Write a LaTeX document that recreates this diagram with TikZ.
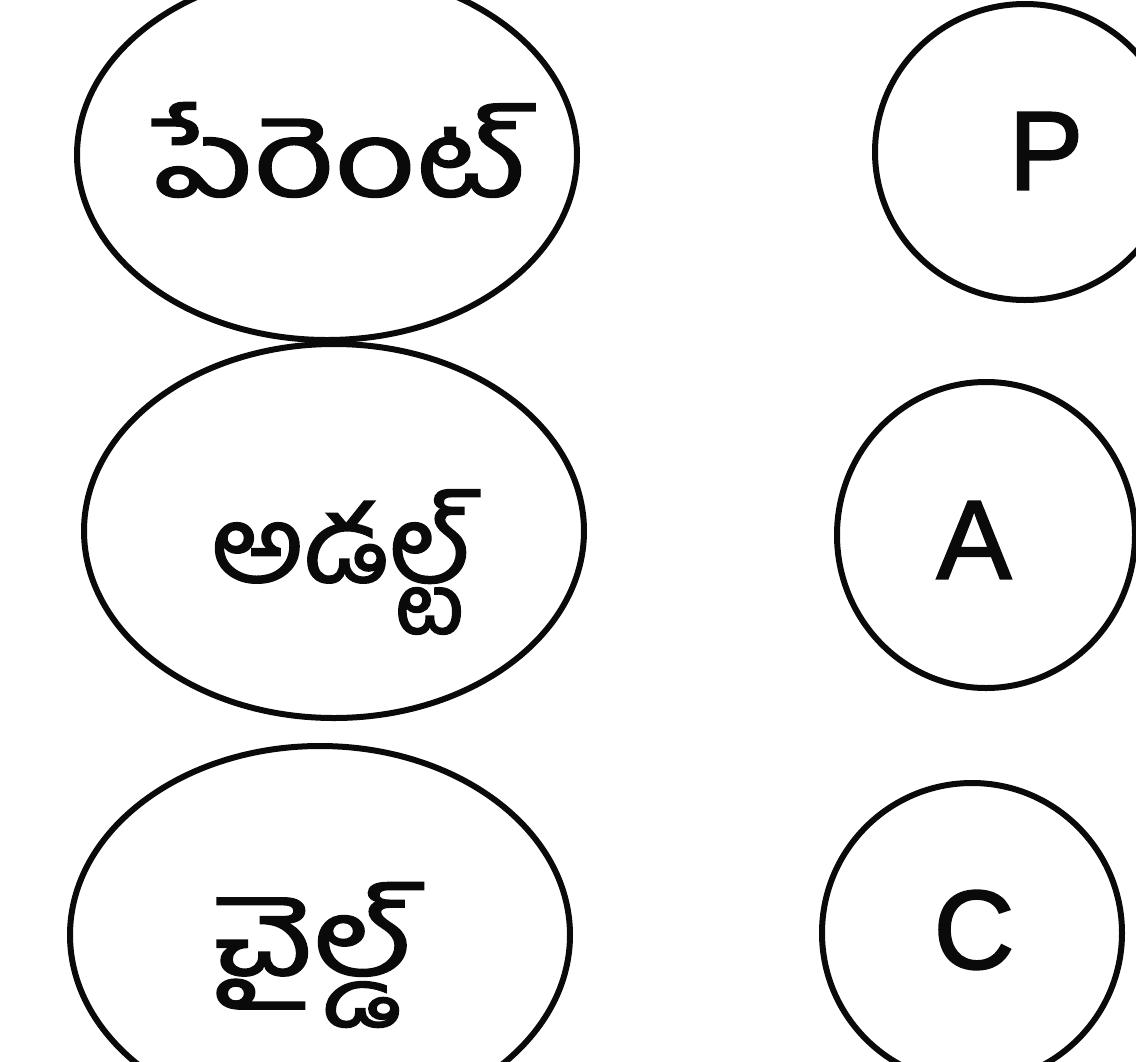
\documentclass[tikz,border=0pt]{standalone}
\usepackage{fontspec}
\setmainfont{Liberation Sans}[FakeBold=1.8]
\newfontfamily\telugufont[Script=Telugu, FakeBold=1.5]{Hind Guntur}
\usetikzlibrary{positioning, shapes.geometric}
\definecolor{clInk}{RGB}{10,10,10}
\tikzset{
  base/.style={
    draw=clInk, line width=6pt, inner sep=0pt
  },
  state/.style={
    base, ellipse,
    minimum width=500pt, minimum height=372pt
  },
  stateText/.style={
    inner sep=0pt, text=clInk,
    font=\telugufont\fontsize{106}{110}\selectfont
  },
  ring/.style={
    base, ellipse,
    minimum width=298pt, minimum height=302pt
  },
  letter/.style={
    inner sep=0pt, text=clInk,
    font=\fontsize{112}{116}\selectfont
  }
}
\begin{document}
\begin{tikzpicture}[x=1pt, y=-1pt]

    \useasboundingbox (0,0) rectangle (1136,1061);

    % ============================================================
    % LEFT COLUMN: EGO STATES
    % ============================================================
    \node (parent) [state, minimum height=370pt] at (327,155) {};
    \node (adult)  [state, minimum height=374pt] at (334,531) {};
    \node (child)  [state, minimum height=378pt] at (320,935) {};

    % labels inside the ellipses
    \node (parentTxt) [stateText] at (340,150) {\addfontfeatures{FakeStretch=1.33}పేరెంట్};
    \node (adultTxt)  [stateText] at (342,562) {\addfontfeatures{FakeStretch=1.07}అడల్ట్};
    \node (childTxt)  [stateText] at (314,955) {\addfontfeatures{FakeStretch=1.3}చైల్డ్};

    % ============================================================
    % RIGHT COLUMN: SHORT FORMS
    % ============================================================
    \node (ringP) [ring, minimum width=300pt, minimum height=296pt] at (1025,152) {};
    \node (ringA) [ring, minimum height=306pt] at (986,535) {};
    \node (ringC) [ring, minimum width=300pt, minimum height=300pt] at (972,933) {};

    \node (ltrP) [letter] at (1046,151) {P};
    \node (ltrA) [letter] at (974,540) {A};
    \node (ltrC) [letter] at (974,930) {C};

\end{tikzpicture}
\end{document}
